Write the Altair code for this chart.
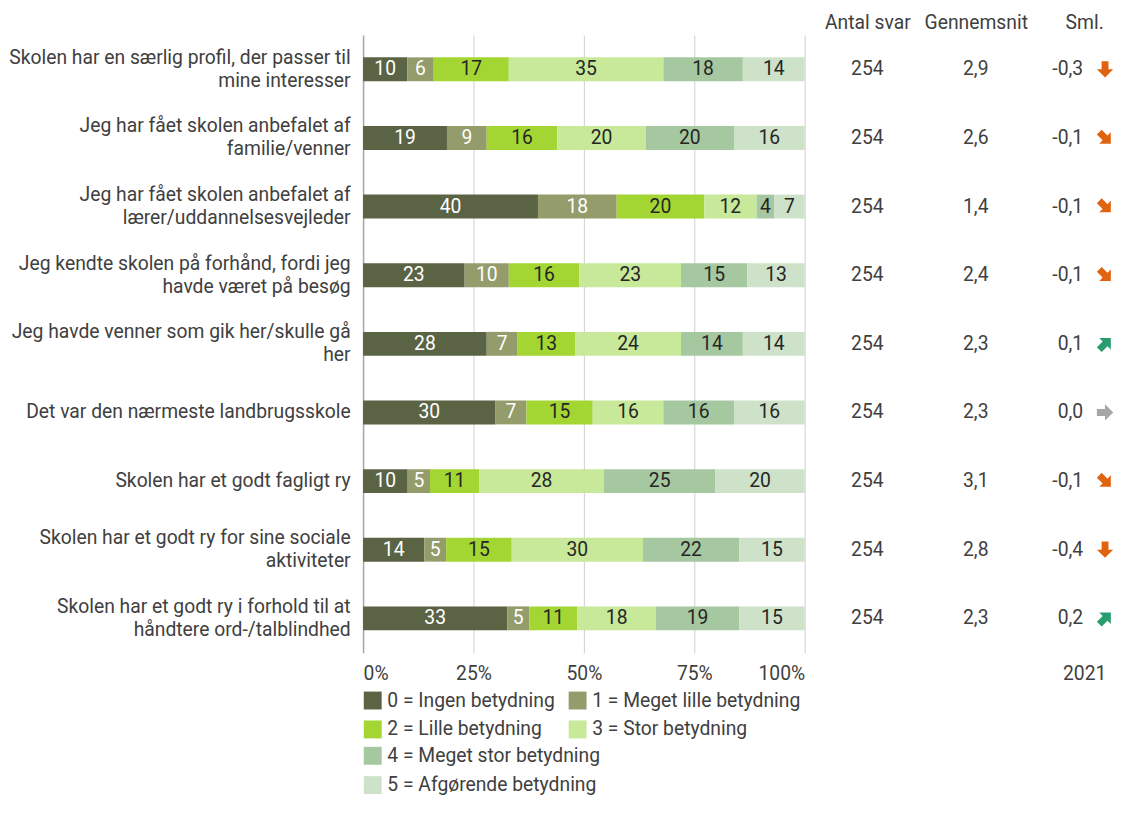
import altair as alt
import pandas as pd

# ---------------- data ----------------
items = [
    "Skolen har en særlig profil, der passer til|mine interesser",
    "Jeg har fået skolen anbefalet af|familie/venner",
    "Jeg har fået skolen anbefalet af|lærer/uddannelsesvejleder",
    "Jeg kendte skolen på forhånd, fordi jeg|havde været på besøg",
    "Jeg havde venner som gik her/skulle gå|her",
    "Det var den nærmeste landbrugsskole",
    "Skolen har et godt fagligt ry",
    "Skolen har et godt ry for sine sociale|aktiviteter",
    "Skolen har et godt ry i forhold til at|håndtere ord-/talblindhed",
]
categories = [
    "0 = Ingen betydning",
    "1 = Meget lille betydning",
    "2 = Lille betydning",
    "3 = Stor betydning",
    "4 = Meget stor betydning",
    "5 = Afgørende betydning",
]
cat_colors = ["#5b6345", "#939c6a", "#a3d633", "#c8e89a", "#a5c8a0", "#cde2c9"]

v0 = [10, 19, 40, 23, 28, 30, 10, 14, 33]
v1 = [6, 9, 18, 10, 7, 7, 5, 5, 5]
v2 = [17, 16, 20, 16, 13, 15, 11, 15, 11]
v3 = [35, 20, 12, 23, 24, 16, 28, 30, 18]
v4 = [18, 20, 4, 15, 14, 16, 25, 22, 19]
v5 = [14, 16, 7, 13, 14, 16, 20, 15, 15]

antal = [254, 254, 254, 254, 254, 254, 254, 254, 254]
gennemsnit = ["2,9", "2,6", "1,4", "2,4", "2,3", "2,3", "3,1", "2,8", "2,3"]
sml = [-0.3, -0.1, -0.1, -0.1, 0.1, 0.0, -0.1, -0.4, 0.2]
columns = ["Antal svar", "Gennemsnit", "Sml."]
year_label = "2021"

# ---------------- tables ----------------
series = [v0, v1, v2, v3, v4, v5]
rows = []
for ci, vals in enumerate(series):
    for ii, it in enumerate(items):
        rows.append({"item": it, "cat": ci, "catlabel": categories[ci], "pct": vals[ii]})
long = pd.DataFrame(rows)

trows = []
srows = []
arows = []
for ii, it in enumerate(items):
    s = sml[ii]
    s_txt = f"{s:.1f}".replace(".", ",")
    trows.append({"item": it, "col": columns[0], "txt": str(antal[ii])})
    trows.append({"item": it, "col": columns[1], "txt": gennemsnit[ii]})
    srows.append({"item": it, "col": columns[2], "txt": s_txt})
    if s <= -0.3:
        ang, colr = 180, "#e0640f"
    elif s < 0:
        ang, colr = 135, "#e0640f"
    elif s == 0:
        ang, colr = 90, "#a6a6a6"
    elif s < 0.3:
        ang, colr = 45, "#2a9d70"
    else:
        ang, colr = 0, "#2a9d70"
    arows.append({"item": it, "col": columns[2], "angle": ang, "acolor": colr})
table = pd.DataFrame(trows)
stable = pd.DataFrame(srows)
arrows = pd.DataFrame(arows)

# ---------------- styles ----------------
TXT = "#404040"
FONT = "Roboto"
FS = 19.4
ROW_H = 621
PI = 0.652
PO = 0.326

yscale = alt.Scale(paddingInner=PI, paddingOuter=PO)
yaxis = alt.Axis(
    title=None,
    labelExpr="split(datum.label, '|')",
    labelFontSize=FS,
    labelColor=TXT,
    labelLineHeight=23,
    labelPadding=13,
    labelLimit=420,
    labelOffset={"condition": {"test": "indexof(datum.value, '|') >= 0", "value": -11.5}, "value": 0},
    ticks=False,
    domain=True,
    domainColor="#a6a6a6",
    domainWidth=1.5,
    grid=False,
)

xscale = alt.Scale(domain=[0, 1], nice=False)
xaxis = alt.Axis(
    title=None,
    format="%",
    values=[0, 0.25, 0.5, 0.75, 1],
    grid=True,
    gridColor="#d0d0d0",
    labelFlush=True,
    domain=False,
    ticks=False,
    labelFontSize=FS,
    labelColor=TXT,
    labelPadding=12,
)

base = alt.Chart(long).transform_stack(
    stack="pct",
    groupby=["item"],
    as_=["x0", "x1"],
    offset="normalize",
    sort=[alt.SortField(field="cat", order="ascending")],
)

legend_common = dict(
    orient="none", legendX=0, title=None, symbolType="square", symbolSize=324,
    symbolStrokeWidth=0, labelFontSize=FS, labelColor=TXT, rowPadding=8.5,
    columnPadding=13, labelOffset=5, padding=0, labelLimit=500,
    direction="horizontal",
)

bars_a = base.transform_filter("datum.cat <= 3").mark_bar().encode(
    x=alt.X("x0:Q", scale=xscale, axis=xaxis),
    x2="x1:Q",
    y=alt.Y("item:N", sort=items, scale=yscale, axis=yaxis),
    color=alt.Color(
        "catlabel:N",
        scale=alt.Scale(domain=categories[:4], range=cat_colors[:4]),
        legend=alt.Legend(legendY=659, columns=2, **legend_common),
    ),
)
bars_b = base.transform_filter("datum.cat >= 4").mark_bar().encode(
    x=alt.X("x0:Q", scale=xscale, axis=xaxis),
    x2="x1:Q",
    y=alt.Y("item:N", sort=items, scale=yscale, axis=yaxis),
    color=alt.Color(
        "catlabel:N",
        scale=alt.Scale(domain=categories[4:], range=cat_colors[4:]),
        legend=alt.Legend(legendY=715, columns=1, **legend_common),
    ),
)
bar_text = base.transform_calculate(mid="(datum.x0 + datum.x1) / 2").mark_text(
    fontSize=FS, baseline="middle", align="center"
).encode(
    x=alt.X("mid:Q", scale=xscale, axis=xaxis),
    y=alt.Y("item:N", sort=items, scale=yscale, axis=yaxis),
    text=alt.Text("pct:Q"),
    color=alt.condition("datum.cat <= 1", alt.value("#ffffff"), alt.value("#262626")),
)

bar_chart = alt.layer(bars_a, bars_b, bar_text).resolve_scale(color="independent").properties(
    width=444, height=ROW_H
)

# ---------------- right-hand table ----------------
tx_scale = alt.Scale(type="point", domain=columns, padding=0)
ty = alt.Y("item:N", sort=items, scale=yscale, axis=None)
top_axis = alt.Axis(orient="top", title=None, labelAngle=0, labelFontSize=FS,
                    labelColor=TXT, domain=False, ticks=False, labelPadding=3)
bottom_axis = alt.Axis(orient="bottom", title=None, labelAngle=0, labelFontSize=FS,
                       labelColor=TXT, domain=False, ticks=False, labelPadding=12,
                       labelExpr=f"datum.label == 'Sml.' ? '{year_label}' : ''")

t_text = alt.Chart(table).mark_text(fontSize=FS, color=TXT, baseline="middle", align="center").encode(
    x=alt.X("col:N", scale=tx_scale, axis=top_axis),
    y=ty,
    text="txt:N",
)

s_text = alt.Chart(stable).mark_text(
    fontSize=FS, color=TXT, baseline="middle", align="right", dx=-1
).encode(
    x=alt.X("col:N", scale=tx_scale, axis=None),
    y=ty,
    text="txt:N",
)

t_arrows = alt.Chart(arrows).mark_point(
    shape="M0,-1L1,0L0.42,0L0.42,1L-0.42,1L-0.42,0L-1,0Z",
    filled=True, size=270, opacity=1, xOffset=21,
).encode(
    x=alt.X("col:N", scale=tx_scale, axis=bottom_axis),
    y=ty,
    angle=alt.Angle("angle:Q", scale=None),
    color=alt.Color("acolor:N", scale=None),
)

table_chart = alt.layer(t_text, s_text, t_arrows).resolve_axis(x="independent").properties(
    width=218, height=ROW_H
)

chart = alt.hconcat(bar_chart, table_chart, spacing=19).resolve_scale(
    color="independent"
).configure(font=FONT).configure_view(stroke=None).properties(
    padding={"left": 0, "top": 2, "right": 0, "bottom": 0}
)

chart.save("out.html", embed_options={"renderer": "svg", "actions": False})
